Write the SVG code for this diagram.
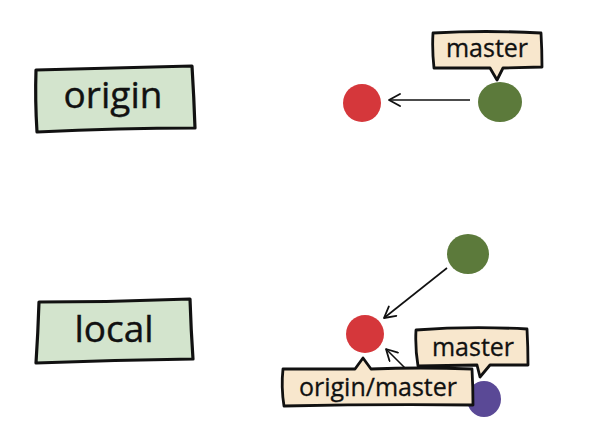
<svg xmlns="http://www.w3.org/2000/svg" width="612" height="429" viewBox="0 0 612 429">
  <defs>
    <style>
      .repo { fill: #d3e4cd; stroke: #111; stroke-width: 3.2; stroke-linejoin: round; }
      .repo-text { font-family: "Open Sans", "DejaVu Sans", sans-serif; font-size: 37px; fill: #111; text-anchor: middle; stroke: #111; stroke-width: 0.4; }
      .tag { fill: #f8e7cd; stroke: #111; stroke-width: 2.8; stroke-linejoin: round; }
      .tag-text { font-family: "Open Sans", "DejaVu Sans", sans-serif; font-size: 25px; fill: #111; text-anchor: middle; stroke: #111; stroke-width: 0.3; }
      .edge { fill: none; stroke: #111; stroke-width: 1.6; }
      .red { fill: #d5373b; }
      .green { fill: #5c7a3b; }
      .purple { fill: #5a4996; }
    </style>
    <marker id="chev" viewBox="-13 -7 14 14" markerWidth="14" markerHeight="14" refX="0" refY="0" orient="auto" markerUnits="userSpaceOnUse">
      <path d="M-11,-6 L0,0 L-11,6" fill="none" stroke="#111" stroke-width="1.8" stroke-linecap="round" stroke-linejoin="round"/>
    </marker>
  </defs>

  <!-- repository labels -->
  <g id="origin-box">
    <path class="repo" d="M36,70 Q110,68 192,66 Q194,98 195,128 Q120,128 37,132 Q35,100 36,70 Z"/>
    <text class="repo-text" x="113" y="108">origin</text>
  </g>
  <g id="local-box">
    <path class="repo" d="M39,302 Q115,302 190,299 Q191,330 193,359 Q115,360 36,363 Q38,333 39,302 Z"/>
    <text class="repo-text" x="114" y="342">local</text>
  </g>

  <!-- commits -->
  <g id="origin-c1"><ellipse class="red" cx="362" cy="103" rx="19" ry="19"/></g>
  <g id="origin-c2"><ellipse class="green" cx="500" cy="102" rx="22" ry="20"/></g>
  <g id="local-c1"><ellipse class="red" cx="365" cy="334" rx="19" ry="19"/></g>
  <g id="local-c2"><ellipse class="green" cx="468" cy="254" rx="21" ry="20"/></g>
  <g id="local-c3"><ellipse class="purple" cx="484" cy="399" rx="17" ry="18"/></g>

  <!-- parent links -->
  <g id="connectors">
    <path class="edge" d="M470,100 L389,100" marker-end="url(#chev)"/>
    <path class="edge" d="M447,268 L384,318" marker-end="url(#chev)"/>
    <path class="edge" d="M422,385 L386,349" marker-end="url(#chev)"/>
  </g>

  <!-- branch labels -->
  <g id="origin-master">
    <path class="tag" d="M433,33 Q485,30 541,33 Q542,50 542,67 L503,68 L497,80 L490,68 L434,68 Q432,50 433,33 Z"/>
    <text class="tag-text" x="487" y="57" font-size="24">master</text>
  </g>
  <g id="local-master">
    <path class="tag" d="M416,330 Q470,326 527,329 Q528,347 528,365 L490,365 L480,377 L477,365 L418,366 Q415,348 416,330 Z"/>
    <text class="tag-text" x="473" y="356">master</text>
  </g>
  <g id="local-origin-master">
    <path class="tag" d="M283,369 L355,369 L363,358 L371,369 Q420,367 472,369 Q473,387 473,405 Q380,404 284,406 Q281,387 283,369 Z"/>
    <text class="tag-text" x="378" y="396" font-size="26">origin/master</text>
  </g>
</svg>
